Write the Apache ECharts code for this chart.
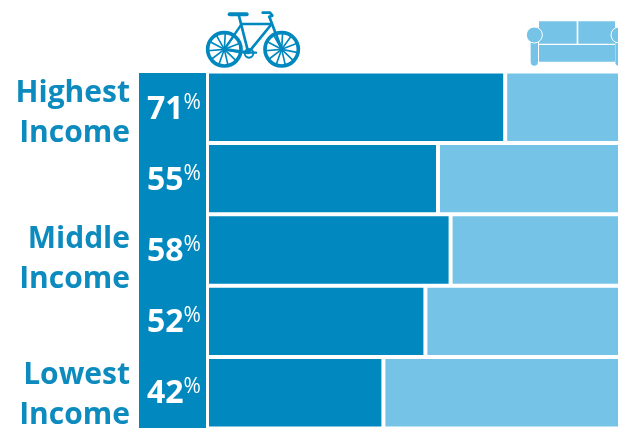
<!DOCTYPE html>
<html>
<head>
<meta charset="utf-8">
<style>html,body{margin:0;padding:0;background:#fff;overflow:hidden}#c{width:618px;height:429px}</style>
<script src="https://cdn.jsdelivr.net/npm/echarts@6/dist/echarts.min.js"></script>
</head>
<body>
<div id="c"></div>
<script>
// Share of households owning a bicycle, by income group
const rows = ['r1', 'r2', 'r3', 'r4', 'r5'];
const groupLabels = ['Highest\nIncome', '', 'Middle\nIncome', '', 'Lowest\nIncome'];
const labelNudge = [5, 0, 9, 0, 3];
const bikeShare = [71, 55, 58, 52, 42];
const total = 100;

const DARK = '#0088BF';
const LIGHT = '#75C4E7';
const INK = '#0E8BBE';

const stroke = (w, color) => ({ stroke: color || DARK, lineWidth: w, fill: null, lineCap: 'round', lineJoin: 'round' });
const seg = (x1, y1, x2, y2, w) => ({ type: 'line', shape: { x1, y1, x2, y2 }, style: stroke(w), silent: true });

function wheel(cx, cy, r) {
  const parts = [{ type: 'circle', shape: { cx, cy, r }, style: stroke(11), silent: true }];
  for (let i = 0; i < 11; i++) {
    const a = i * Math.PI * 2 / 11 + 0.2;
    parts.push(seg(cx, cy, cx + Math.cos(a) * r, cy + Math.sin(a) * r, 5));
  }
  return parts;
}

const bicycle = {
  type: 'group', position: [190, 0], scale: [1 / 3, 1 / 3], silent: true,
  children: [
    ...wheel(103, 148, 50), ...wheel(275, 148, 50),
    seg(119, 43, 170, 43, 12),
    seg(147, 48, 175, 158, 8), seg(155, 72, 245, 72, 8), seg(245, 72, 175, 158, 8),
    seg(175, 158, 103, 148, 9), seg(155, 72, 103, 148, 7), seg(238, 50, 275, 148, 8),
    { type: 'polyline', shape: { points: [[218, 38], [240, 38], [247, 47], [238, 50]] }, style: stroke(8), silent: true },
    { type: 'circle', shape: { cx: 177, cy: 160, r: 13 }, style: stroke(6), silent: true },
    seg(170, 158, 198, 158, 7)
  ]
};

const cushion = (x, y, w, h) => ({ type: 'rect', shape: { x, y, width: w, height: h }, style: { fill: LIGHT }, silent: true });
const sofaArm = cx => ([
  { type: 'rect', shape: { x: cx - 11, y: 105, width: 22, height: 92, r: 11 }, style: { fill: LIGHT }, silent: true },
  { type: 'circle', shape: { cx, cy: 105, r: 24 }, style: { fill: LIGHT, stroke: '#fff', lineWidth: 3 }, silent: true }
]);

const sofa = {
  type: 'group', position: [500, 0], scale: [1 / 3, 1 / 3], silent: true,
  children: [
    cushion(117, 64, 113, 67), cushion(235, 64, 110, 67), cushion(117, 135, 228, 50),
    ...sofaArm(103), ...sofaArm(357)
  ]
};

const option = {
  animation: false,
  backgroundColor: '#fff',
  graphic: [bicycle, sofa],
  grid: [
    { left: 207, top: 71.5, width: 420, height: 357, outerBoundsMode: 'none' },
    { left: 139, top: 73, width: 67, height: 355, outerBoundsMode: 'none' }
  ],
  xAxis: [
    { gridIndex: 0, type: 'value', min: 0, max: total, show: false },
    { gridIndex: 1, type: 'value', min: 0, max: 1, show: false }
  ],
  yAxis: [
    { gridIndex: 0, type: 'category', data: rows, inverse: true, show: false },
    { gridIndex: 1, type: 'category', data: rows, inverse: true, show: false }
  ],
  series: [
    {
      type: 'bar', stack: 'share', xAxisIndex: 0, yAxisIndex: 0, barCategoryGap: 0,
      data: bikeShare,
      itemStyle: { color: DARK, borderColor: '#fff', borderWidth: 2 }
    },
    {
      type: 'bar', stack: 'share', xAxisIndex: 0, yAxisIndex: 0, barCategoryGap: 0,
      data: bikeShare.map(v => total - v),
      itemStyle: { color: LIGHT, borderColor: '#fff', borderWidth: 2 }
    },
    {
      type: 'bar', xAxisIndex: 1, yAxisIndex: 1, barCategoryGap: 0, barGap: '-100%',
      data: bikeShare.map(() => 1),
      itemStyle: { color: DARK },
      label: {
        show: true, position: 'inside', offset: [1.5, 1],
        formatter: p => '{n|' + bikeShare[p.dataIndex] + '}{p|%}',
        rich: {
          n: { color: '#fff', fontFamily: 'Open Sans', fontWeight: 700, fontSize: 32 },
          p: { color: '#fff', fontFamily: 'Open Sans', fontSize: 21, verticalAlign: 'top', padding: [0, 0, 12, 0] }
        }
      }
    },
    {
      // Income group captions sit to the left of the percentage column
      type: 'bar', xAxisIndex: 1, yAxisIndex: 1, barCategoryGap: 0, barGap: '-100%',
      data: groupLabels.map((text, i) => ({
        value: 1,
        label: { offset: [-4, labelNudge[i]] }
      })),
      itemStyle: { color: 'transparent' },
      label: {
        show: true, position: 'left', distance: 5, align: 'right',
        formatter: p => groupLabels[p.dataIndex],
        color: INK, fontFamily: 'Open Sans', fontWeight: 700, fontSize: 30, lineHeight: 40
      }
    }
  ]
};

echarts.init(document.getElementById('c'), null, { renderer: 'canvas' }).setOption(option);
</script>
</body>
</html>
